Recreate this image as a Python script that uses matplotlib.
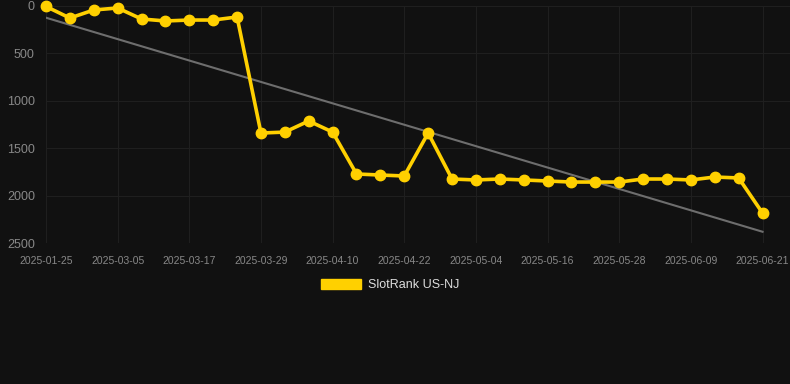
import matplotlib
matplotlib.use("Agg")
import matplotlib.pyplot as plt
import numpy as np
from matplotlib.patches import Patch

plt.rcParams["font.family"] = ["Liberation Sans", "DejaVu Sans"]

dates = ["2025-01-25", "2025-02-10", "2025-02-22", "2025-03-05", "2025-03-09",
         "2025-03-13", "2025-03-17", "2025-03-21", "2025-03-25", "2025-03-29",
         "2025-04-02", "2025-04-06", "2025-04-10", "2025-04-14", "2025-04-18",
         "2025-04-22", "2025-04-26", "2025-04-30", "2025-05-04", "2025-05-08",
         "2025-05-12", "2025-05-16", "2025-05-20", "2025-05-24", "2025-05-28",
         "2025-06-01", "2025-06-05", "2025-06-09", "2025-06-13", "2025-06-17",
         "2025-06-21"]
ranks = [5, 127, 42, 21, 137, 158, 148, 148, 116, 1340, 1330, 1213, 1330,
         1772, 1783, 1793, 1340, 1825, 1835, 1825, 1835, 1846, 1857, 1857,
         1857, 1825, 1825, 1835, 1804, 1814, 2184]
series_name = "SlotRank US-NJ"
y_ticks = [0, 500, 1000, 1500, 2000, 2500]

BG = "#111111"
GOLD = "#FFD000"

fig = plt.figure(figsize=(7.9, 3.84), dpi=100, facecolor=BG)
ax = fig.add_axes([46/790, 1-243/384, (790-46)/790, (243-6)/384], facecolor=BG)

x = np.arange(len(dates))
coef = np.polyfit(x, ranks, 1)
ax.plot(x, np.polyval(coef, x), color="#6e6e6e", lw=1.5, zorder=2)
ax.plot(x, ranks, color=GOLD, lw=2.6, marker="o", ms=7.5, zorder=3,
        label=series_name, clip_on=False)

ax.set_xlim(0, 31.15)
ax.set_ylim(2500, 0)
ax.set_yticks(y_ticks)
ax.set_yticklabels([str(v) for v in y_ticks])
ax.set_xticks(x[::3])
ax.set_xticklabels(dates[::3])
ax.grid(True, color="#1f1f1f", lw=0.8)
for s in ax.spines.values():
    s.set_visible(False)
ax.tick_params(axis="y", colors="#888888", labelsize=9, length=0, pad=8)
ax.tick_params(axis="x", colors="#888888", labelsize=7.5, length=0, pad=9)

leg = fig.legend(handles=[Patch(facecolor=GOLD, edgecolor=GOLD, label=series_name)],
                 loc="center", bbox_to_anchor=(390/790, 1-285/384), frameon=False,
                 fontsize=9, handlelength=3.2, handleheight=0.9,
                 handletextpad=0.55)
for t in leg.get_texts():
    t.set_color("#dddddd")

fig.savefig("out.png", dpi=100, facecolor=BG)
